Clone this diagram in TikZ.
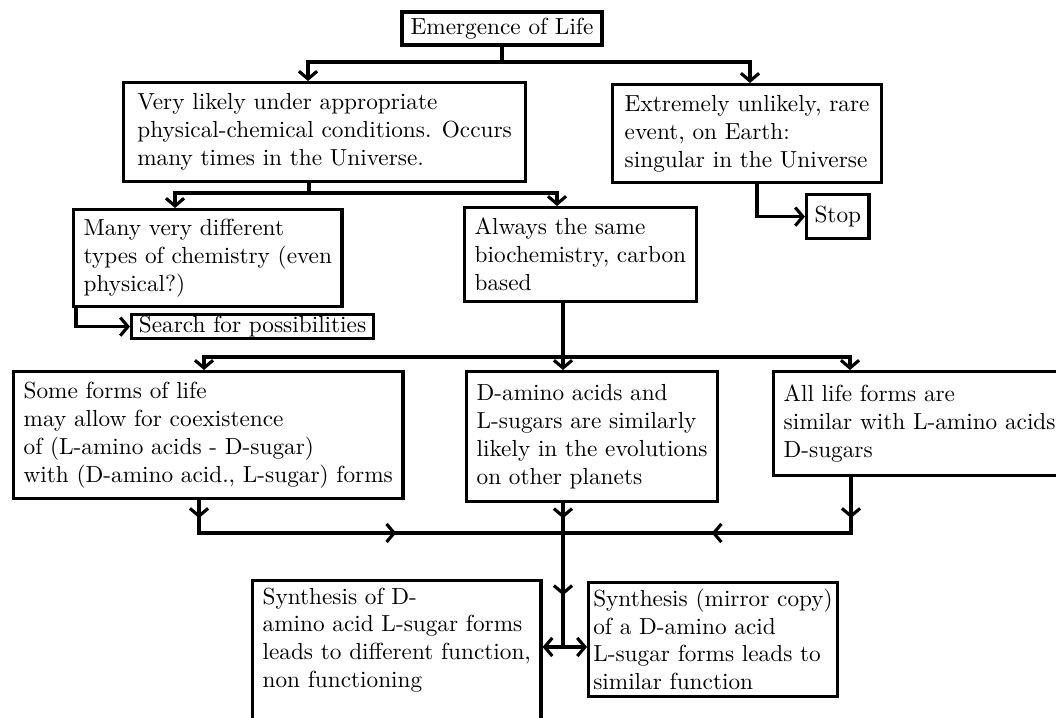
\documentclass[tikz,border=0pt]{standalone}
\usetikzlibrary{arrows.meta,decorations.markings}
\begin{document}
\begin{tikzpicture}[x=0.43pt,y=-0.43pt,
  >={Straight Barb[length=3.3pt,width=7.8pt]},
  box/.style={draw, line width=1.4pt, align=left, anchor=north west, inner xsep=4.3pt, inner ysep=0pt},
  conn/.style={line width=1.35pt},
  arr/.style={conn,->},
  midtwo/.style 2 args={postaction={decorate}, decoration={markings,
     mark=at position #1 with {\arrow{>}},
     mark=at position #2 with {\arrow{>}}}}
]
\useasboundingbox (0,0) rectangle (1056,718);

% nodes
\node[box, anchor=center, minimum width=86pt, minimum height=14.2pt, inner xsep=0pt] (em) at (502,28.5) {Emergence of Life};
\node[box, inner xsep=5.9pt, minimum height=42.6pt] (A) at (122,81) {Very likely under appropriate\\physical-chemical conditions. Occurs\\many times in the Universe.};
\node[box, inner xsep=5.2pt, minimum height=42.1pt] (B) at (611,83) {Extremely unlikely, rare\\event, on Earth:\\singular in the Universe};
\node[box, inner xsep=3.4pt, minimum height=18.9pt] (Stop) at (805,193) {Stop};
\node[box, minimum height=41.7pt] (C) at (72,208) {Many very different\\types of chemistry (even\\physical?)};
\node[box, minimum height=40.4pt] (D) at (463,206) {Always the same\\biochemistry, carbon\\based};
\node[box, inner xsep=1pt, minimum width=104pt, minimum height=10.3pt] (S) at (130,313) {Search for possibilities};
\node[box, minimum height=54.6pt] (E) at (12,370) {Some forms of life\\may allow for coexistence\\of (L-amino acids - D-sugar)\\with (D-amino acid., L-sugar) forms};
\node[box, minimum height=55.9pt] (F) at (465,370) {D-amino acids and\\L-sugars are similarly\\likely in the evolutions\\on other planets};
\node[box, minimum height=44.7pt] (G) at (772,370) {All life forms are\\similar with L-amino acids\\D-sugars};
\node[box, inner ysep=3pt] (H) at (251,579) {Synthesis of D-\\amino acid L-sugar forms\\leads to different function,\\non functioning\\\mbox{}};
\node[box, inner xsep=2pt, inner ysep=2.6pt] (I) at (587,581) {Synthesis (mirror copy)\\of a D-amino acid\\L-sugar forms leads to\\similar function};

% helper coordinates
\coordinate (k1) at (502,62);
\coordinate (xA) at (308,0);
\coordinate (xB) at (750,0);
\coordinate (k2) at (309,193);
\coordinate (xC) at (175,0);
\coordinate (xD) at (557,0);
\coordinate (xS) at (757,0);
\coordinate (xR) at (76,0);
\coordinate (k3) at (563,357);
\coordinate (xE) at (204,0);
\coordinate (xG) at (850,0);
\coordinate (xE2) at (199,0);
\coordinate (xG2) at (851,0);
\coordinate (jn) at (563,533);
\coordinate (sp) at (563,647);

% connectors
\draw[arr] (em.south) -- (k1) -| (A.north -| xA);
\draw[arr] (k1) -| (B.north -| xB);
\draw[arr] (A.south -| k2) -- (k2) -| (C.north -| xC);
\draw[arr] (k2) -| (D.north -| xD);
\draw[arr] (B.south -| xS) |- (Stop.west);
\draw[arr] (C.south -| xR) |- (S.west);
\draw[arr] (D.south -| k3) -- (F.north -| k3);
\draw[arr] (k3) -| (E.north -| xE);
\draw[arr] (k3) -| (G.north -| xG);
\draw[conn, midtwo={7.7pt}{98.9pt}] (E.south -| xE2) |- (jn);
\draw[conn, midtwo={17.6pt}{83.9pt}] (G.south -| xG2) |- (jn);
\draw[conn, midtwo={6.5pt}{39.6pt}] (F.south -| jn) -- (sp);
\draw[arr] (sp) -- (H.east |- sp);
\draw[arr] (sp) -- (I.west |- sp);
\end{tikzpicture}
\end{document}
